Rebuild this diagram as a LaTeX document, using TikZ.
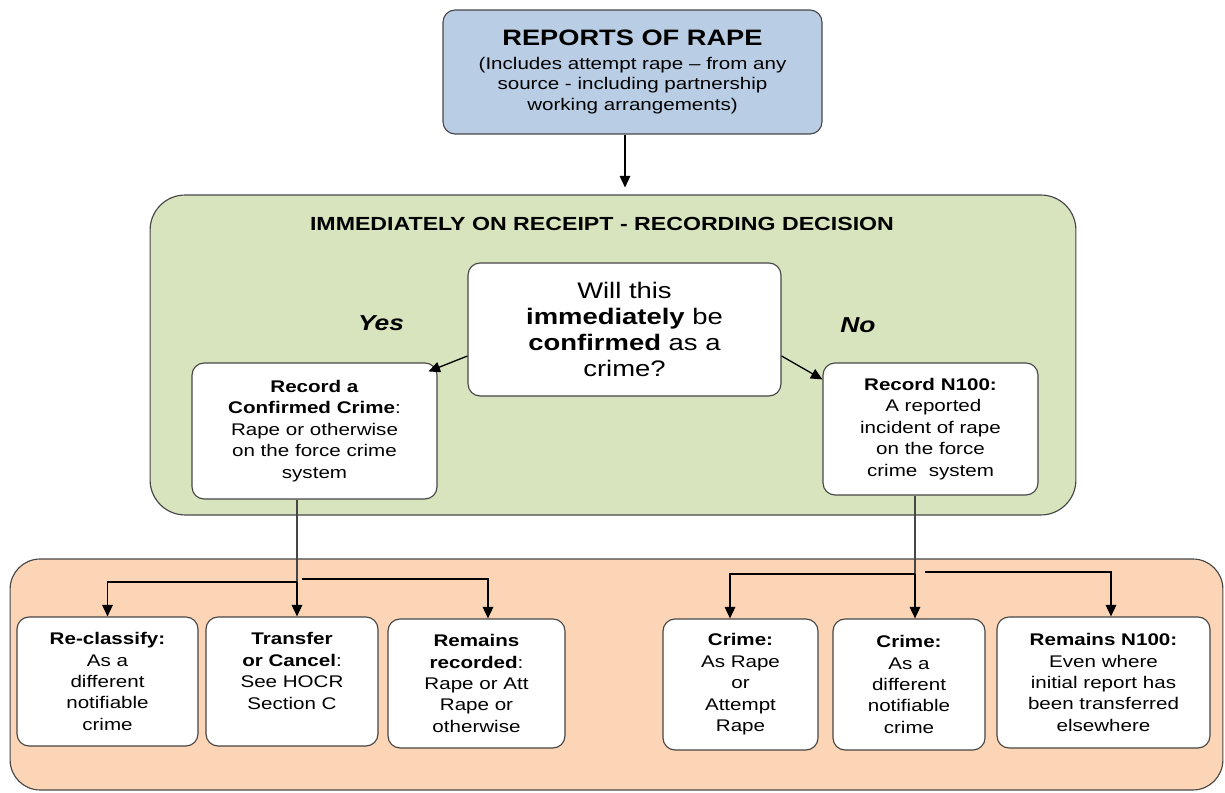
\documentclass[tikz,border=0pt]{standalone}
\usepackage{fontspec}
\setmainfont{Liberation Sans}[FakeStretch=1.22]
\usetikzlibrary{arrows.meta,positioning,calc}
\definecolor{repblue}{RGB}{185,205,228}
\definecolor{decgreen}{RGB}{215,228,189}
\definecolor{outpeach}{RGB}{251,213,181}
\definecolor{boxline}{RGB}{70,70,70}

\begin{document}
\begin{tikzpicture}[x=0.02cm, y=-0.02cm,
    panel/.style={draw=boxline, line width=0.65pt, rounded corners=0.7cm, inner sep=0pt},
    card/.style={draw=boxline, line width=0.65pt, fill=white, rounded corners=0.24cm,
        align=center, inner sep=0pt, font=\fontsize{9.6}{12.2}\selectfont},
    arr/.style={-{Triangle[length=0.23cm,width=0.21cm]}, line width=0.85pt},
    stem/.style={draw=boxline, line width=0.6pt}]
\useasboundingbox (0,0) rectangle (1225,793);

% Background panels
\node[panel, fill=decgreen, minimum width=18.52cm, minimum height=6.4cm] (decision) at (613,355) {};
\node[panel, fill=outpeach, rounded corners=0.6cm, minimum width=24.26cm, minimum height=4.62cm] (outcome) at (616.5,674.5) {};

% Reports box
\node[card, fill=repblue, minimum width=7.58cm, minimum height=2.48cm, font=\fontsize{9.6}{11.6}\selectfont] (reports) at (632.5,72)
    {{\fontsize{12.7}{15}\selectfont\bfseries REPORTS OF RAPE}\\[2pt]
     (Includes attempt rape – from any\\ source - including partnership\\ working arrangements)};

% Recording decision
\node[font=\fontsize{10.8}{12}\selectfont\bfseries] (dectitle) at (602,224) {IMMEDIATELY ON RECEIPT - RECORDING DECISION};
\node[card, minimum width=6.26cm, minimum height=2.66cm, font=\fontsize{12.8}{14.7}\selectfont] (question) at (624.5,329.5)
    {Will this\\ \textbf{immediately} be\\ \textbf{confirmed} as a\\ crime?};
\node[font=\fontsize{12.3}{14}\selectfont\bfseries\itshape] (yes) at (381,323) {Yes};
\node[font=\fontsize{12.3}{14}\selectfont\bfseries\itshape] (no) at (858,325) {No};

\node[card, minimum width=4.9cm, minimum height=2.72cm] (rec) at (314.5,431)
    {\textbf{Record a}\\ \textbf{Confirmed Crime}:\\ Rape or otherwise\\ on the force crime\\ system};
\node[card, minimum width=4.3cm, minimum height=2.64cm] (nrec) at (930.5,429)
    {\textbf{Record N100:}\\ \ A reported\\ incident of rape\\ on the force\\ crime\ \ system};

% Outcomes
\node[card, minimum width=3.62cm, minimum height=2.58cm] (reclass) at (107.5,681.5)
    {\textbf{Re-classify:}\\ As a\\ different\\ notifiable\\ crime};
\node[card, minimum width=3.44cm, minimum height=2.58cm] (transfer) at (292,681.5)
    {\textbf{Transfer}\\ \textbf{or Cancel}:\\ See HOCR\\ Section C\\ ~};
\node[card, minimum width=3.54cm, minimum height=2.58cm] (remrec) at (476.5,683.5)
    {\textbf{Remains}\\ \textbf{recorded}:\\ Rape or Att\\ Rape or\\ otherwise};
\node[card, minimum width=3.1cm, minimum height=2.62cm] (crrape) at (740.5,684.5)
    {\textbf{Crime:}\\ As Rape\\ or\\ Attempt\\ Rape};
\node[card, minimum width=3.04cm, minimum height=2.62cm] (crdiff) at (909,684.5)
    {\textbf{Crime:}\\ As a\\ different\\ notifiable\\ crime};
\node[card, minimum width=4.26cm, minimum height=2.62cm] (remn) at (1103.5,682.5)
    {\textbf{Remains N100:}\\ Even where\\ initial report has\\ been transferred\\ elsewhere};

% Connectors
\coordinate (topx) at (625,0);
\draw[arr, shorten >=0.14cm] (reports.south -| topx) -- (decision.north -| topx);
\draw[arr, line width=0.75pt] ([yshift=-0.53cm]question.west) -- ([xshift=-0.18cm,yshift=-0.18cm]rec.north east);
\draw[arr, line width=0.75pt] ([yshift=-0.53cm]question.east) -- ([yshift=-0.34cm]nrec.north west);

\coordinate (lsplit) at (297,582);
\coordinate (lsplitb) at (302,579);
\draw[stem] (rec.south -| lsplit) -- (lsplit);
\draw[arr] (lsplit) -| (reclass.north);
\draw[arr] (lsplit) -- (transfer.north -| lsplit);
\draw[arr] (lsplitb) -| ([xshift=0.23cm]remrec.north);

\coordinate (rsplit) at (915,574);
\coordinate (rsplitb) at (925,572);
\draw[stem] (nrec.south -| rsplit) -- (rsplit);
\draw[arr] (rsplit) -| ([xshift=-0.21cm]crrape.north);
\draw[arr] (rsplit) -- (crdiff.north -| rsplit);
\draw[arr] (rsplitb) -| ([xshift=0.15cm]remn.north);

\end{tikzpicture}
\end{document}
